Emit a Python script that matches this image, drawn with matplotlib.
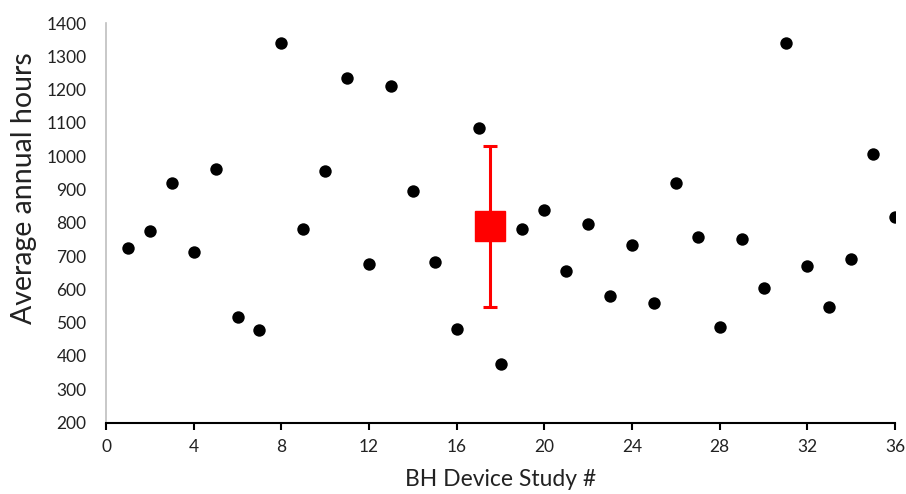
import matplotlib
matplotlib.use("Agg")
import matplotlib.pyplot as plt

plt.rcParams['font.family'] = ['Lato', 'DejaVu Sans']

# Individual BH device studies
study_no = list(range(1, 37))
annual_hours = [725, 776, 919, 713, 962, 517, 478, 1339, 782, 956,
                1234, 677, 1210, 896, 683, 481, 1084, 376, 782, 839,
                656, 797, 580, 733, 560, 920, 758, 488, 750, 605,
                1339, 671, 548, 692, 1006, 818]

# Summary marker (mean with spread)
mean_x = 17.5
mean_hours = 791
spread_hi = 240
spread_lo = 243

fig = plt.figure(figsize=(9.06, 4.94), dpi=100)
ax = fig.add_axes([0.117, 0.1447, 0.871, 0.8087])

ax.scatter(study_no, annual_hours, s=80, color='black', zorder=3, linewidths=0)
ax.errorbar([mean_x], [mean_hours], yerr=[[spread_lo], [spread_hi]],
            fmt='s', color='red', ecolor='red', markersize=21.5,
            elinewidth=2.2, capsize=5, capthick=2.2, zorder=4)

ax.set_xlim(0, 36)
ax.set_ylim(200, 1400)
ax.set_xticks(range(0, 37, 4))
ax.set_yticks(range(200, 1401, 100))

for side in ['top', 'right']:
    ax.spines[side].set_visible(False)
ax.spines['left'].set_color('#bfbfbf')
ax.spines['left'].set_linewidth(1.2)
ax.spines['bottom'].set_color('black')
ax.spines['bottom'].set_linewidth(1.5)

ax.tick_params(axis='y', length=0, pad=14, labelsize=12.5, colors='#222222')
ax.tick_params(axis='x', direction='out', length=5, width=1.5, pad=7,
               labelsize=12.5, colors='black', labelcolor='#222222')

ax.set_xlabel("BH Device Study #", fontsize=16.5, color='#222222', labelpad=10)
ax.set_ylabel("Average annual hours", fontsize=20.5, color='#222222')
ax.yaxis.set_label_coords(-0.087, 0.586)

fig.savefig("out.png", dpi=100)
